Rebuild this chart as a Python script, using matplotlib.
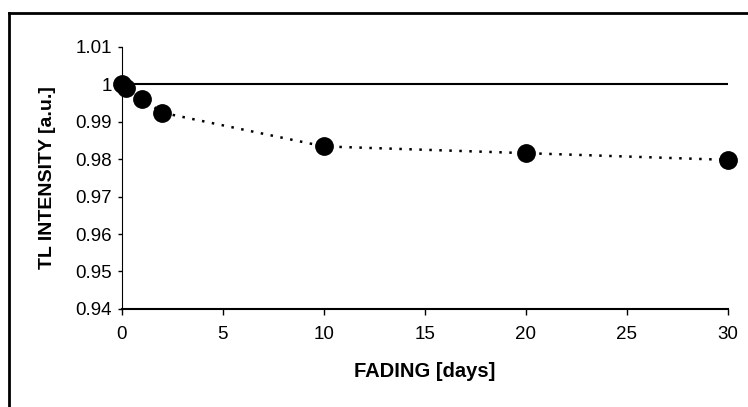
import matplotlib.pyplot as plt
from matplotlib.lines import Line2D

days = [0, 0.2, 1, 2, 10, 20, 30]
intensity = [1.0, 0.999, 0.9961, 0.9924, 0.9834, 0.9816, 0.9798]
x_ticks = [0, 5, 10, 15, 20, 25, 30]
y_ticks = [0.94, 0.95, 0.96, 0.97, 0.98, 0.99, 1.0, 1.01]
y_labels = ['0.94', '0.95', '0.96', '0.97', '0.98', '0.99', '1', '1.01']

plt.rcParams['font.family'] = ['Liberation Sans', 'DejaVu Sans']

fig = plt.figure(figsize=(7.48, 4.07), dpi=100)
ax = fig.add_axes([0.163, 0.241, 0.81, 0.644])

# reference line at 1
ax.plot([0, 30], [1, 1], 'k-', lw=1.5, zorder=2)
# measured points with dotted connector
ax.plot(days, intensity, color='black', ls=(0, (1, 3)), lw=1.8, zorder=2)
ax.plot(days, intensity, 'o', color='black', ms=12.5, zorder=3, clip_on=False)

ax.set_xlim(0, 30)
ax.set_ylim(0.94, 1.01)
ax.set_xticks(x_ticks)
ax.set_yticks(y_ticks)
ax.set_yticklabels(y_labels)
ax.tick_params(direction='out', length=4, width=1, labelsize=13.5, pad=8)
ax.tick_params(axis='y', length=3, pad=4)
for s in ['top', 'right']:
    ax.spines[s].set_visible(False)
ax.spines['left'].set_linewidth(0.8)
ax.spines['bottom'].set_linewidth(1.5)

ax.set_xlabel('FADING [days]', fontsize=14.5, fontweight='bold', labelpad=14)
ax.set_ylabel('TL INTENSITY [a.u.]', fontsize=14, fontweight='bold', labelpad=14)

# outer frame of the chart area
fig.add_artist(Line2D([0.012, 0.012], [0.0, 0.968], color='black', lw=2,
                      transform=fig.transFigure))
fig.add_artist(Line2D([0.012, 1.0], [0.968, 0.968], color='black', lw=2,
                      transform=fig.transFigure))

fig.savefig('out.png', dpi=100)
